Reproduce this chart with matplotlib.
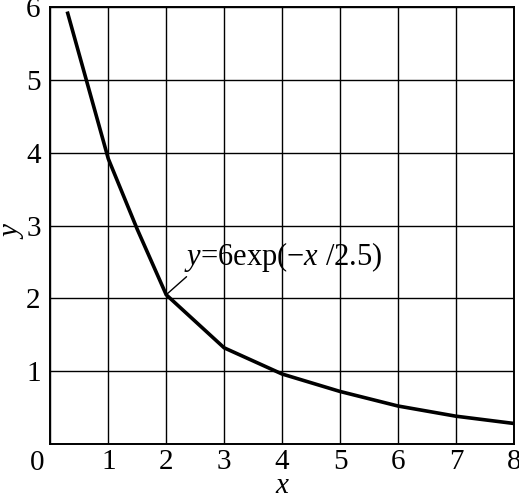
import numpy as np
import matplotlib.pyplot as plt

plt.rcParams['font.family'] = ['Liberation Serif', 'DejaVu Serif']
plt.rcParams['mathtext.fontset'] = 'custom'
plt.rcParams['mathtext.rm'] = 'Liberation Serif'
plt.rcParams['mathtext.it'] = 'Liberation Serif:italic'

# curve values
x_pts = [0.3, 1.0, 1.5, 2.0, 3.0, 4.0, 5.0, 6.0, 7.0, 8.0]
y_pts = [5.92, 3.92, 2.95, 2.05, 1.32, 0.96, 0.72, 0.52, 0.38, 0.28]

x_ticks = list(range(0, 9))
y_ticks = list(range(0, 7))
x_labels = [''] + [str(i) for i in x_ticks[1:]]
y_labels = [''] + [str(i) for i in y_ticks[1:]]

fs = 21

fig = plt.figure(figsize=(5.19, 4.97), dpi=100)
ax = fig.add_axes([0.097, 0.107, 0.893, 0.878])

ax.plot(x_pts, y_pts, color='black', lw=2.6, solid_joinstyle='miter', zorder=3)

ax.set_xlim(0, 8)
ax.set_ylim(0, 6)
ax.set_xticks(x_ticks)
ax.set_yticks(y_ticks)
ax.set_xticklabels(x_labels, fontsize=fs)
ax.set_yticklabels(y_labels, fontsize=fs)
ax.tick_params(axis='x', length=0, pad=4)
ax.tick_params(axis='y', length=0, pad=7)
ax.grid(True, color='black', lw=1.0)
for s in ax.spines.values():
    s.set_linewidth(1.4)

# origin label
ax.text(-0.23, -0.26, '0', fontsize=fs, ha='center', va='center', clip_on=False)

ax.set_xlabel('$x$', fontsize=fs, va='center')
ax.xaxis.set_label_coords(0.5, -0.097)
ax.set_ylabel('$y$', fontsize=fs, va='center', ha='center')
ax.yaxis.set_label_coords(-0.08, 0.49)

ax.annotate('$y$=6exp(\u2212$x$ /2.5)', xy=(2.0, 2.05), xytext=(2.3, 2.57),
            fontsize=22, va='center', ha='left',
            arrowprops=dict(arrowstyle='-', color='black', lw=1.0,
                            shrinkA=0, shrinkB=0, relpos=(0.05, 0.1)))

fig.savefig('out.png', dpi=100)
